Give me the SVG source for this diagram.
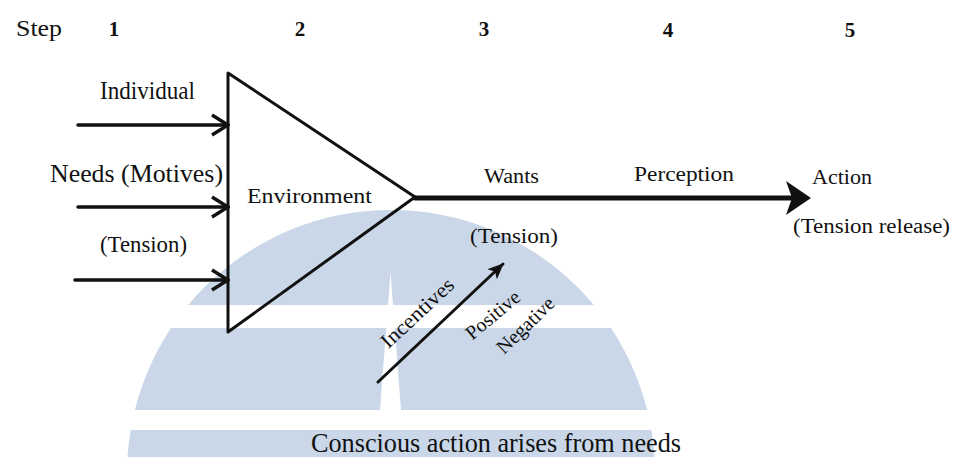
<svg xmlns="http://www.w3.org/2000/svg" width="957" height="457" viewBox="0 0 957 457">
  <defs>
    <style>
      .t { font-family: "Liberation Serif", "Times New Roman", serif; fill: #111; }
      .ln { stroke: #111; fill: none; stroke-linecap: round; stroke-linejoin: round; }
      .wm { fill: #c9d7e8; }
    </style>
    <marker id="chev" viewBox="0 0 20 24" refX="18" refY="12" markerWidth="20" markerHeight="24" markerUnits="userSpaceOnUse" orient="auto">
      <path d="M2,2 L18,12 L2,22" fill="none" stroke="#111" stroke-width="3.5" stroke-linejoin="miter"/>
    </marker>
    <marker id="small" viewBox="0 0 16 14" refX="15" refY="7" markerWidth="16" markerHeight="14" markerUnits="userSpaceOnUse" orient="auto">
      <path d="M0,0 L16,7 L0,14 L4,7 Z" fill="#111"/>
    </marker>
  </defs>
  <rect width="957" height="457" fill="#ffffff"/>

  <!-- background watermark -->
  <g id="watermark">
    <circle class="wm" cx="391" cy="474" r="264"/>
    <rect x="100" y="305" width="600" height="23" fill="#ffffff"/>
    <rect x="100" y="410" width="600" height="20" fill="#ffffff"/>
    <polygon points="390.5,272 401,410 380,410" fill="#ffffff"/>
  </g>

  <!-- step row -->
  <g id="steps">
    <text class="t" x="16" y="36" font-size="24" textLength="46" lengthAdjust="spacingAndGlyphs">Step</text>
    <text class="t" x="114" y="36" font-size="21" font-weight="bold" text-anchor="middle">1</text>
    <text class="t" x="300" y="36" font-size="21" font-weight="bold" text-anchor="middle">2</text>
    <text class="t" x="484" y="36" font-size="21" font-weight="bold" text-anchor="middle">3</text>
    <text class="t" x="668" y="37" font-size="21" font-weight="bold" text-anchor="middle">4</text>
    <text class="t" x="850" y="37" font-size="21" font-weight="bold" text-anchor="middle">5</text>
  </g>

  <!-- input labels -->
  <g id="inputs">
    <text class="t" x="100" y="99" font-size="25" textLength="95" lengthAdjust="spacingAndGlyphs">Individual</text>
    <text class="t" x="50" y="182" font-size="25" textLength="173" lengthAdjust="spacingAndGlyphs">Needs (Motives)</text>
    <text class="t" x="100" y="252" font-size="24" textLength="87" lengthAdjust="spacingAndGlyphs">(Tension)</text>
  </g>

  <!-- environment triangle -->
  <g id="environment">
    <path class="ln" d="M228,73 L415,197 L228,332 Z" stroke-width="3"/>
    <text class="t" x="247" y="203" font-size="22" textLength="125" lengthAdjust="spacingAndGlyphs">Environment</text>
  </g>

  <!-- connectors -->
  <g id="connectors">
    <line class="ln" x1="78" y1="125" x2="228" y2="125" stroke-width="3.5" marker-end="url(#chev)"/>
    <line class="ln" x1="78" y1="207" x2="228" y2="207" stroke-width="3.5" marker-end="url(#chev)"/>
    <line class="ln" x1="75" y1="280" x2="228" y2="280" stroke-width="3.5" marker-end="url(#chev)"/>
    <line class="ln" x1="415" y1="198" x2="795" y2="198" stroke-width="5"/>
    <path d="M786,181 L811,198 L786,215 L792,198 Z" fill="#111"/>
    <line class="ln" x1="378" y1="382" x2="503" y2="264" stroke-width="3" marker-end="url(#small)"/>
  </g>

  <!-- step labels along the flow -->
  <g id="wants">
    <text class="t" x="484" y="183" font-size="20" textLength="55" lengthAdjust="spacingAndGlyphs">Wants</text>
    <text class="t" x="470" y="243" font-size="20" textLength="88" lengthAdjust="spacingAndGlyphs">(Tension)</text>
  </g>
  <g id="perception">
    <text class="t" x="634" y="181" font-size="20" textLength="100" lengthAdjust="spacingAndGlyphs">Perception</text>
  </g>
  <g id="action">
    <text class="t" x="812" y="184" font-size="20" textLength="60" lengthAdjust="spacingAndGlyphs">Action</text>
    <text class="t" x="793" y="233" font-size="20" textLength="157" lengthAdjust="spacingAndGlyphs">(Tension release)</text>
  </g>

  <!-- incentives -->
  <g id="incentives">
    <text class="t" font-size="21" text-anchor="middle" transform="translate(422,318) rotate(-43)" textLength="92" lengthAdjust="spacingAndGlyphs">Incentives</text>
    <text class="t" font-size="20" text-anchor="middle" transform="translate(497,320) rotate(-40)">Positive</text>
    <text class="t" font-size="20" text-anchor="middle" transform="translate(530,330) rotate(-44)">Negative</text>
  </g>

  <!-- caption -->
  <g id="caption">
    <text class="t" x="311" y="452" font-size="27" textLength="370" lengthAdjust="spacingAndGlyphs">Conscious action arises from needs</text>
  </g>
</svg>
